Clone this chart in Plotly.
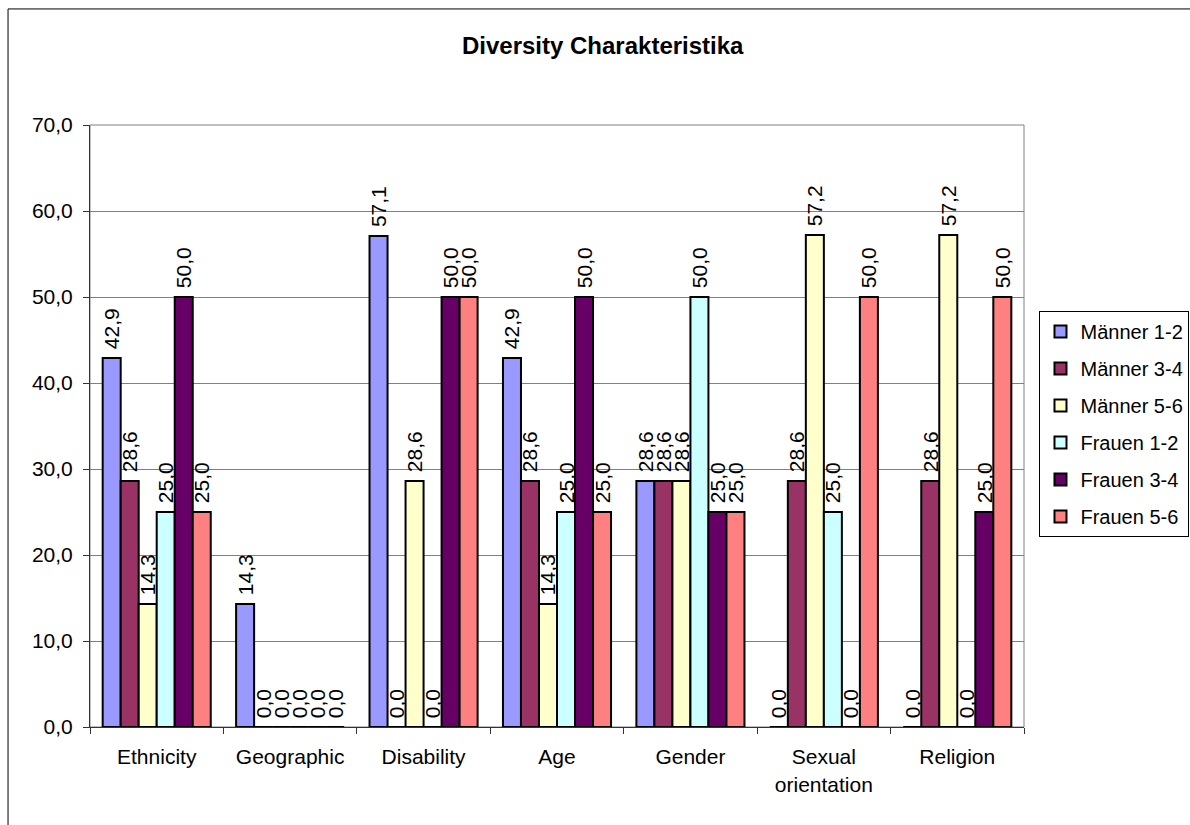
import plotly.graph_objects as go

categories = ["Ethnicity", "Geographic", "Disability", "Age", "Gender", "Sexual<br>orientation", "Religion"]
series_names = ["Männer 1-2", "Männer 3-4", "Männer 5-6", "Frauen 1-2", "Frauen 3-4", "Frauen 5-6"]
maenner_1_2 = [42.9, 14.3, 57.1, 42.9, 28.6, 0.0, 0.0]
maenner_3_4 = [28.6, 0.0, 0.0, 28.6, 28.6, 28.6, 28.6]
maenner_5_6 = [14.3, 0.0, 28.6, 14.3, 28.6, 57.2, 57.2]
frauen_1_2 = [25.0, 0.0, 0.0, 25.0, 50.0, 25.0, 0.0]
frauen_3_4 = [50.0, 0.0, 50.0, 50.0, 25.0, 0.0, 25.0]
frauen_5_6 = [25.0, 0.0, 50.0, 25.0, 25.0, 50.0, 50.0]
colors = ["#9999FF", "#993366", "#FFFFCC", "#CCFFFF", "#660066", "#FF8080"]
y_ticks = [0, 10, 20, 30, 40, 50, 60, 70]

series_values = [maenner_1_2, maenner_3_4, maenner_5_6, frauen_1_2, frauen_3_4, frauen_5_6]

FONT = "Liberation Sans, Arial, sans-serif"

fig = go.Figure()
for i, (name, vals, col) in enumerate(zip(series_names, series_values, colors)):
    fig.add_trace(go.Bar(
        x=categories, y=vals, name=name, legendgroup=name,
        marker=dict(color=col, line=dict(color="black", width=2)),
        texttemplate="\u00a0%{y:.1f}", textposition="outside", textangle=-90,
        textfont=dict(family=FONT, size=21, color="black"),
        constraintext="none", cliponaxis=False,
    ))

# plot area geometry (pixels)
L, R, T, B = 90, 1024.5, 125, 726.7
W, H = R - L, B - T

def xp(px):
    return (px - L) / W

def yp(py):
    return (B - py) / H

fig.update_layout(
    width=1190, height=825,
    margin=dict(l=L, r=1190 - R, t=T, b=825 - B, autoexpand=False),
    paper_bgcolor="white", plot_bgcolor="white",
    separators=",.",
    barmode="group", bargap=0.19, bargroupgap=0,
    font=dict(family=FONT, size=21, color="black"),
    title=dict(text="<b>Diversity Charakteristika</b>", x=xp(603), xref="paper", xanchor="center",
               y=1 - 46 / 825, yref="container", yanchor="middle",
               font=dict(family=FONT, size=24, color="black")),
    legend=dict(x=xp(1040), y=yp(311), xanchor="left", yanchor="top",
                bordercolor="black", borderwidth=1, bgcolor="white",
                font=dict(family=FONT, size=20, color="black"),
                tracegroupgap=8, itemwidth=30, traceorder="grouped"),
    showlegend=True,
    xaxis=dict(showline=True, linecolor="#333333", linewidth=1, ticks="outside", tickson="boundaries",
               ticklen=6, tickcolor="#333333", showgrid=False, ticklabelstandoff=11,
               tickfont=dict(family=FONT, size=21, color="black")),
    yaxis=dict(range=[0, 70], tickvals=y_ticks, tickformat=".1f", showline=True, linecolor="#333333",
               linewidth=1, ticks="outside", ticklen=6, tickcolor="#333333", showgrid=True,
               gridcolor="#808080", gridwidth=1, zeroline=False, ticklabelstandoff=6,
               tickfont=dict(family=FONT, size=21, color="black")),
    shapes=[
        dict(type="rect", xref="paper", yref="paper", x0=0, x1=1, y0=0, y1=1,
             line=dict(color="#808080", width=1), layer="below"),
        dict(type="line", xref="paper", yref="paper", x0=xp(8), x1=xp(1200), y0=yp(9), y1=yp(9),
             line=dict(color="black", width=1)),
        dict(type="line", xref="paper", yref="paper", x0=xp(8), x1=xp(8), y0=yp(9), y1=yp(830),
             line=dict(color="black", width=1)),
    ],
)

fig.write_html("out.html")
